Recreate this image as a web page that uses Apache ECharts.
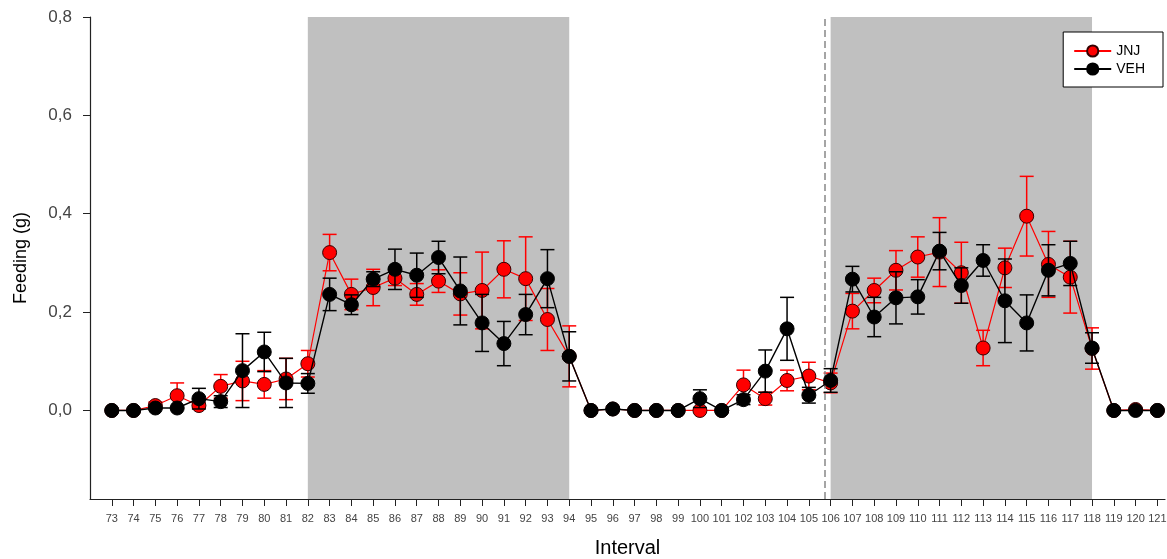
<!DOCTYPE html>
<html>
<head>
<meta charset="utf-8">
<title>Feeding by interval</title>
<script src="https://cdn.jsdelivr.net/npm/echarts@6/dist/echarts.min.js"></script>
<style>
  html, body { margin: 0; padding: 0; background: #fff; }
  #chart { width: 1167px; height: 559px; }
</style>
</head>
<body>
<div id="chart"></div>
<script>
// Intervals on the x axis
const intervals = [73, 74, 75, 76, 77, 78, 79, 80, 81, 82, 83, 84, 85, 86, 87, 88, 89, 90, 91, 92, 93, 94,
  95, 96, 97, 98, 99, 100, 101, 102, 103, 104, 105, 106, 107, 108, 109, 110, 111, 112, 113, 114, 115,
  116, 117, 118, 119, 120, 121];

// JNJ group: mean feeding (g) and SEM
const jnjMean = [0, 0, 0.01, 0.03, 0.01, 0.049, 0.06, 0.053, 0.064, 0.095, 0.321, 0.236, 0.25, 0.269, 0.236,
  0.263, 0.237, 0.244, 0.287, 0.268, 0.185, 0.11,
  0, 0.003, 0, 0, 0, 0, 0, 0.052, 0.024, 0.061, 0.07, 0.056, 0.202, 0.244, 0.285, 0.312, 0.322, 0.28,
  0.127, 0.29, 0.395, 0.297, 0.271, 0.126, 0, 0.002, 0];
const jnjSem = [0, 0, 0.007, 0.026, 0.005, 0.024, 0.04, 0.028, 0.042, 0.027, 0.037, 0.031, 0.037, 0.015, 0.022,
  0.023, 0.043, 0.078, 0.058, 0.085, 0.063, 0.062,
  0, 0, 0, 0, 0, 0, 0, 0.03, 0.013, 0.021, 0.028, 0.02, 0.036, 0.025, 0.04, 0.041, 0.07, 0.062,
  0.036, 0.04, 0.081, 0.067, 0.073, 0.042, 0, 0, 0];

// VEH group: mean feeding (g) and SEM
const vehMean = [0, 0, 0.005, 0.005, 0.024, 0.018, 0.081, 0.119, 0.056, 0.055, 0.236, 0.215, 0.267, 0.287, 0.275,
  0.311, 0.243, 0.178, 0.136, 0.195, 0.268, 0.11,
  0, 0.003, 0, 0, 0, 0.024, 0, 0.022, 0.08, 0.166, 0.031, 0.061, 0.267, 0.19, 0.229, 0.231, 0.324, 0.254,
  0.305, 0.223, 0.178, 0.285, 0.299, 0.127, 0, 0, 0];
const vehSem = [0, 0, 0.002, 0.002, 0.021, 0.012, 0.075, 0.04, 0.05, 0.02, 0.033, 0.02, 0.015, 0.041, 0.045,
  0.033, 0.069, 0.058, 0.045, 0.041, 0.059, 0.05,
  0, 0, 0, 0, 0, 0.018, 0, 0.01, 0.043, 0.064, 0.016, 0.024, 0.026, 0.04, 0.053, 0.035, 0.038, 0.036,
  0.032, 0.085, 0.057, 0.052, 0.045, 0.031, 0, 0, 0];

// Dark phases (shaded) and the dashed marker line
const darkPhases = [[82, 94], [106, 118]];
const markerLineAt = 105.75;
const yTicks = [0, 0.2, 0.4, 0.6, 0.8];

const pairs = (ys) => intervals.map((x, i) => [x, ys[i]]);
const errData = (m, s) => intervals
  .map((x, i) => [x, m[i] - s[i], m[i] + s[i]])
  .filter((d, i) => s[i] > 0);

// Vertical SEM bar with caps at both ends
function errorBars(color) {
  return function (params, api) {
    const x = api.value(0);
    const top = api.coord([x, api.value(2)]);
    const bot = api.coord([x, api.value(1)]);
    const w = 7;
    const st = { stroke: color, lineWidth: 1.5 };
    return {
      type: 'group',
      children: [
        { type: 'line', shape: { x1: top[0], y1: top[1], x2: bot[0], y2: bot[1] }, style: st },
        { type: 'line', shape: { x1: top[0] - w, y1: top[1], x2: top[0] + w, y2: top[1] }, style: st },
        { type: 'line', shape: { x1: bot[0] - w, y1: bot[1], x2: bot[0] + w, y2: bot[1] }, style: st }
      ]
    };
  };
}

const chart = echarts.init(document.getElementById('chart'), null, { renderer: 'canvas' });
chart.setOption({
  animation: false,
  backgroundColor: '#fff',
  textStyle: { fontFamily: 'Liberation Sans, Arial, sans-serif' },
  grid: { left: 90, right: 2, top: 17, bottom: 60, outerBoundsMode: 'none' },
  legend: {
    data: ['JNJ', 'VEH'],
    orient: 'vertical',
    right: 4,
    top: 32,
    itemWidth: 37,
    itemHeight: 14,
    itemGap: 4,
    padding: [12, 18, 11, 10],
    borderColor: '#000',
    borderWidth: 1,
    backgroundColor: '#fff',
    textStyle: { fontSize: 14, color: '#000' }
  },
  xAxis: {
    type: 'value',
    min: 72,
    max: 121.35,
    name: 'Interval',
    nameLocation: 'middle',
    nameGap: 39,
    nameTextStyle: { fontSize: 20, color: '#000' },
    splitLine: { show: false },
    axisLine: { onZero: false, lineStyle: { color: '#222', width: 1.2 } },
    axisTick: { customValues: intervals, length: 7, lineStyle: { color: '#222' } },
    axisLabel: { customValues: intervals, fontSize: 11, color: '#444', margin: 14 }
  },
  yAxis: {
    type: 'value',
    min: -0.18,
    max: 0.8,
    name: 'Feeding (g)',
    nameLocation: 'middle',
    nameGap: 60,
    nameTextStyle: { fontSize: 18, color: '#000' },
    splitLine: { show: false },
    axisLine: { show: true, onZero: false, lineStyle: { color: '#222', width: 1.2 } },
    axisTick: { show: true, customValues: yTicks, length: 7, lineStyle: { color: '#222' } },
    axisLabel: {
      customValues: yTicks,
      fontSize: 17,
      color: '#444',
      margin: 18,
      formatter: (v) => v.toFixed(1).replace('.', ',')
    }
  },
  series: [
    {
      name: 'phases',
      type: 'line',
      data: [],
      z: 1,
      silent: true,
      markArea: {
        silent: true,
        itemStyle: { color: '#c0c0c0' },
        data: darkPhases.map(([a, b]) => [{ xAxis: a }, { xAxis: b }])
      },
      markLine: {
        silent: true,
        symbol: 'none',
        label: { show: false },
        lineStyle: { color: '#888', type: [7, 4], width: 1.5 },
        data: [{ xAxis: markerLineAt }]
      }
    },
    {
      name: 'JNJ err',
      type: 'custom',
      z: 3,
      renderItem: errorBars('#ff0000'),
      data: errData(jnjMean, jnjSem)
    },
    {
      name: 'JNJ',
      type: 'line',
      z: 4,
      data: pairs(jnjMean),
      symbol: 'circle',
      symbolSize: 14,
      lineStyle: { color: '#ff0000', width: 1.2 },
      itemStyle: { color: '#ff0000', borderColor: '#300', borderWidth: 1 }
    },
    {
      name: 'VEH err',
      type: 'custom',
      z: 5,
      renderItem: errorBars('#000'),
      data: errData(vehMean, vehSem)
    },
    {
      name: 'VEH',
      type: 'line',
      z: 6,
      data: pairs(vehMean),
      symbol: 'circle',
      symbolSize: 14,
      lineStyle: { color: '#000', width: 1.4 },
      itemStyle: { color: '#000', borderColor: '#000', borderWidth: 1 }
    }
  ]
});
</script>
</body>
</html>
